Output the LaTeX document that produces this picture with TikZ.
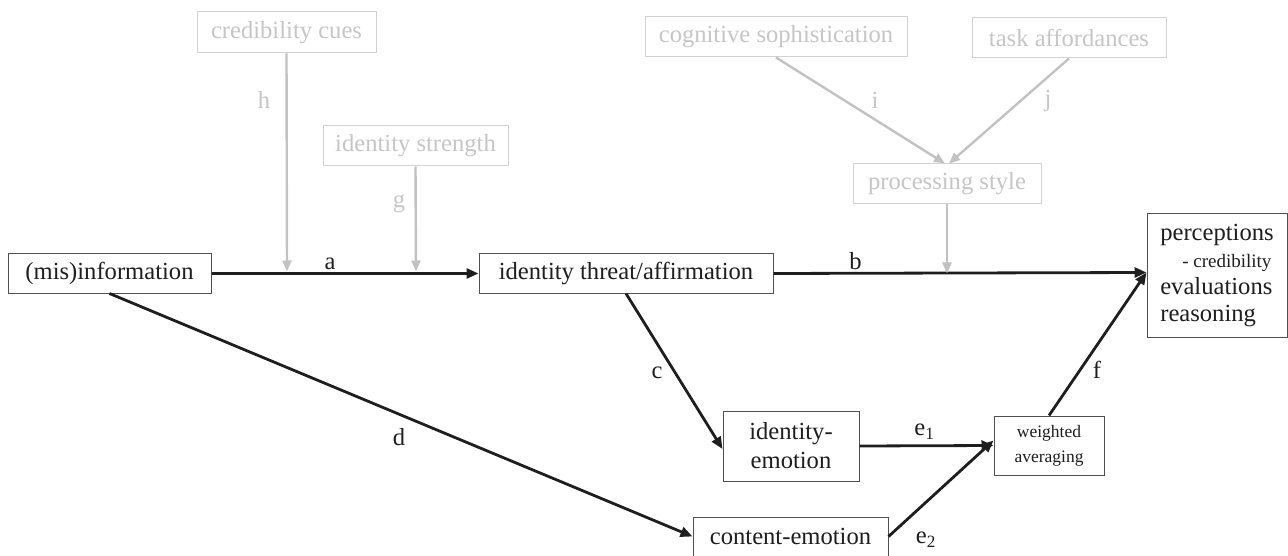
\documentclass[tikz,border=0pt]{standalone}
\usepackage{fontspec}
\setmainfont{Liberation Serif}
\usetikzlibrary{arrows.meta}
\definecolor{dk}{HTML}{1E1E1E}
\definecolor{bd}{HTML}{505050}
\definecolor{lg}{HTML}{C2C2C2}
\definecolor{lgt}{HTML}{C6C6C6}
\definecolor{lgb}{HTML}{D2D2D2}
\newcommand{\bigf}{\fontsize{24.6}{29}\selectfont}
\begin{document}
\begin{tikzpicture}[x=1pt,y=-1pt,
  box/.style={draw=bd,line width=1pt,fill=white,inner sep=0pt,font=\bigf,text=dk,align=center},
  gbox/.style={draw=lgb,line width=1pt,fill=white,inner sep=0pt,font=\bigf,text=lgt,minimum height=40pt},
  arr/.style={draw=dk,line width=2.8pt,-{Triangle[length=12pt,width=10pt]}},
  garr/.style={draw=lg,line width=2.4pt,-{Triangle[length=11pt,width=9pt]}},
  lbl/.style={font=\bigf,text=dk,inner sep=0pt},
  glbl/.style={font=\bigf,text=lgt,inner sep=0pt}
]
\useasboundingbox (0,0) rectangle (1288,556);

% black boxes
\node[box,minimum width=203pt,minimum height=39pt] (mis) at (109.5,273.5) {(mis)information};
\node[box,minimum width=294pt,minimum height=39pt] (threat) at (626,273.5) {identity threat/affirmation};
\node[box,minimum width=140pt,minimum height=123pt,align=left,font=\fontsize{24.6}{27}\selectfont] (perc) at (1217,275.5)
  {perceptions\\\hspace*{22pt}{\fontsize{19}{27}\selectfont - credibility}\\evaluations\\reasoning};
\node[box,minimum width=136pt,minimum height=70pt,font=\fontsize{24.6}{29}\selectfont] (idemo) at (791,446) {identity-\\emotion};
\node[box,minimum width=110pt,minimum height=59pt,font=\fontsize{17.5}{25}\selectfont] (wavg) at (1049,445.5) {weighted\\averaging};
\node[box,minimum width=195pt,minimum height=39pt] (contemo) at (790.5,536.5) {content-emotion};

% gray boxes
\node[gbox,minimum width=179pt,minimum height=41pt] (cred) at (286.5,32.5) {credibility cues};
\node[gbox,minimum width=185pt] (idstr) at (415.5,146) {identity strength};
\node[gbox,minimum width=262pt] (cog) at (776,37) {cognitive sophistication};
\node[gbox,minimum width=194pt] (task) at (1069,38) {task affordances};
\node[gbox,minimum width=188pt] (proc) at (947,184) {processing style};

% free ends of moderator arrows
\coordinate (hEnd) at (287,271.5);
\coordinate (gEnd) at (416,271.5);
\coordinate (pEnd) at (947,273.5);

% black connectors
\draw[arr] (mis.east) -- (threat.west);
\draw[arr] (threat.east) -- ([yshift=3pt]perc.west);
\draw[arr] (threat.south) -- ([yshift=-3pt]idemo.west);
\draw[arr] (mis.south) -- (contemo.west);
\draw[arr] (idemo.east) -- (wavg.west);
\draw[arr] (contemo.east) -- ([yshift=5pt]wavg.west);
\draw[arr] (wavg.north) -- ([yshift=3pt]perc.west);

% gray connectors
\draw[garr] (cred.south) -- (hEnd);
\draw[garr] (idstr.south) -- (gEnd);
\draw[garr] (proc.south) -- (pEnd);
\draw[garr] (cog.south) -- ([xshift=-2pt]proc.north);
\draw[garr] (task.south) -- ([xshift=2pt]proc.north);

% labels
\node[lbl] (la) at (330,263.5) {a};
\node[lbl] (lb) at (855.5,261) {b};
\node[lbl] (lc) at (657,373) {c};
\node[lbl] (ld) at (399,437) {d};
\node[lbl] (le1) at (924.5,431.5) {e\textsubscript{1}};
\node[lbl] (le2) at (926,540) {e\textsubscript{2}};
\node[lbl] (lf) at (1097,370) {f};
\node[glbl] (lh) at (264,100) {h};
\node[glbl] (lg) at (399,204) {g};
\node[glbl] (li) at (875,100) {i};
\node[glbl] (lj) at (1048,101) {j};
\end{tikzpicture}
\end{document}
